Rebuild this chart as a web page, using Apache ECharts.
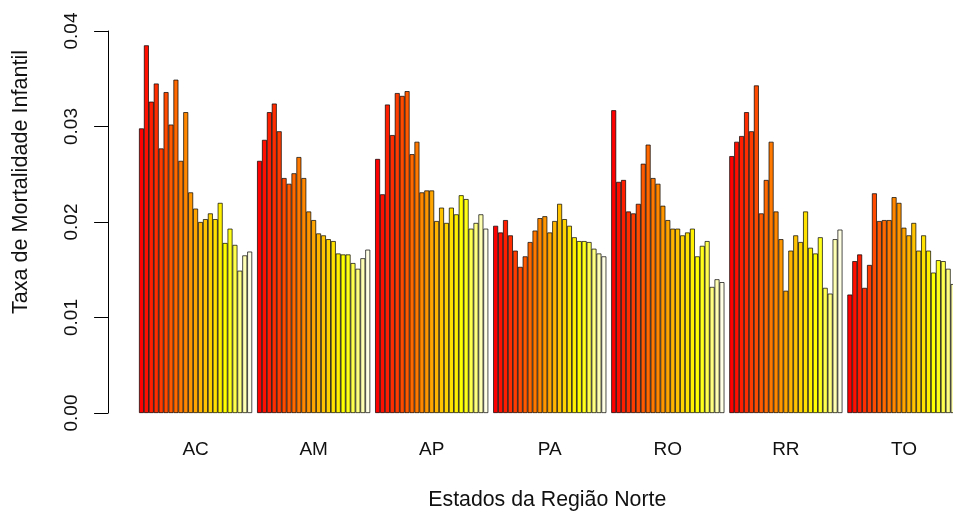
<!DOCTYPE html>
<html>
<head>
<meta charset="utf-8">
<script src="https://cdn.jsdelivr.net/npm/echarts@6/dist/echarts.min.js"></script>
<style>
html,body{margin:0;padding:0;background:#fff;}
#chart{width:953px;height:515px;}
</style>
</head>
<body>
<div id="chart"></div>
<script>
// ---- data ----
const states = ['AC', 'AM', 'AP', 'PA', 'RO', 'RR', 'TO'];
const AC = [0.0298, 0.0385, 0.0326, 0.0345, 0.0277, 0.0336, 0.0302, 0.0349, 0.0264, 0.0315, 0.0231, 0.0214, 0.0200, 0.0203, 0.0209, 0.0203, 0.0220, 0.0178, 0.0193, 0.0176, 0.0149, 0.0165, 0.0169];
const AM = [0.0264, 0.0286, 0.0315, 0.0324, 0.0295, 0.0246, 0.0240, 0.0251, 0.0268, 0.0246, 0.0211, 0.0202, 0.0188, 0.0186, 0.0182, 0.0180, 0.0167, 0.0166, 0.0166, 0.0157, 0.0151, 0.0162, 0.0171];
const AP = [0.0266, 0.0229, 0.0323, 0.0291, 0.0335, 0.0332, 0.0337, 0.0271, 0.0284, 0.0231, 0.0233, 0.0233, 0.0201, 0.0215, 0.0199, 0.0215, 0.0208, 0.0228, 0.0224, 0.0193, 0.0199, 0.0208, 0.0193];
const PA = [0.0196, 0.0189, 0.0202, 0.0186, 0.0170, 0.0153, 0.0164, 0.0179, 0.0191, 0.0204, 0.0206, 0.0189, 0.0201, 0.0219, 0.0203, 0.0196, 0.0184, 0.0180, 0.0180, 0.0179, 0.0172, 0.0167, 0.0164];
const RO = [0.0317, 0.0242, 0.0244, 0.0211, 0.0209, 0.0219, 0.0261, 0.0281, 0.0246, 0.0240, 0.0217, 0.0202, 0.0193, 0.0193, 0.0186, 0.0189, 0.0193, 0.0164, 0.0175, 0.0180, 0.0132, 0.0140, 0.0137];
const RR = [0.0269, 0.0284, 0.0290, 0.0315, 0.0295, 0.0343, 0.0209, 0.0244, 0.0284, 0.0211, 0.0182, 0.0128, 0.0170, 0.0186, 0.0179, 0.0211, 0.0173, 0.0167, 0.0184, 0.0131, 0.0125, 0.0182, 0.0192];
const TO = [0.0124, 0.0159, 0.0166, 0.0131, 0.0155, 0.0230, 0.0201, 0.0202, 0.0202, 0.0226, 0.0220, 0.0194, 0.0186, 0.0199, 0.0170, 0.0186, 0.0170, 0.0147, 0.0160, 0.0159, 0.0151, 0.0135, 0.0130];
const seriesValues = [AC, AM, AP, PA, RO, RR, TO];
const yTicks = [0, 0.01, 0.02, 0.03, 0.04];

// ---- R heat.colors(23) ----
function hsv2rgb(h, s, v) {
  const i = Math.floor(h * 6) % 6, f = h * 6 - Math.floor(h * 6);
  const p = v * (1 - s), q = v * (1 - f * s), t = v * (1 - (1 - f) * s);
  let r, g, b;
  switch (i) {
    case 0: r = v; g = t; b = p; break;
    case 1: r = q; g = v; b = p; break;
    case 2: r = p; g = v; b = t; break;
    case 3: r = p; g = q; b = v; break;
    case 4: r = t; g = p; b = v; break;
    default: r = v; g = p; b = q;
  }
  return 'rgb(' + Math.round(r * 255) + ',' + Math.round(g * 255) + ',' + Math.round(b * 255) + ')';
}
function heatColors(n) {
  const j = Math.floor(n / 4), i = n - j, out = [];
  for (let k = 0; k < i; k++) out.push(hsv2rgb((1 / 6) * k / (i - 1), 1, 1));
  for (let k = 0; k < j; k++) {
    const s = (1 - 1 / (2 * j)) - k * ((1 - 1 / (2 * j)) - 1 / (2 * j)) / (j - 1);
    out.push(hsv2rgb(1 / 6, s, 1));
  }
  return out;
}
const nBars = AC.length;
const cols = heatColors(nBars);

// ---- build categories (one empty slot before each group, like R's space) ----
const cats = [], barData = [];
states.forEach((st, g) => {
  cats.push('gap' + g);
  barData.push('-');
  seriesValues[g].forEach((v, k) => {
    cats.push(st + '|' + k);
    barData.push({ value: v, itemStyle: { color: cols[k] } });
  });
});
const centerIdx = Math.floor(nBars / 2);
const FONT = 'Liberation Sans, Arial, sans-serif';

const chart = echarts.init(document.getElementById('chart'), null, { renderer: 'canvas' });
chart.setOption({
  animation: false,
  backgroundColor: '#ffffff',
  textStyle: { fontFamily: FONT },
  grid: { left: 134.1, top: 31, width: 826.4, height: 382, containLabel: false, outerBoundsMode: 'none' },
  xAxis: {
    type: 'category',
    data: cats,
    boundaryGap: true,
    axisLine: { show: false },
    axisTick: { show: false },
    splitLine: { show: false },
    axisLabel: {
      interval: 0,
      margin: 27,
      fontSize: 19,
      color: '#111',
      fontFamily: FONT,
      formatter: function (val) {
        const parts = val.split('|');
        return (parts.length === 2 && +parts[1] === centerIdx) ? parts[0] : '';
      }
    },
    name: 'Estados da Região Norte',
    nameLocation: 'middle',
    nameGap: 77,
    nameTextStyle: { fontSize: 21.3, color: '#111', fontFamily: FONT }
  },
  yAxis: {
    type: 'value',
    min: yTicks[0],
    max: yTicks[yTicks.length - 1],
    interval: 0.01,
    offset: 26,
    axisLine: { show: true, lineStyle: { color: '#000', width: 1 } },
    axisTick: { show: true, length: 14, lineStyle: { color: '#000', width: 1 } },
    splitLine: { show: false },
    axisLabel: {
      rotate: 90,
      margin: 27,
      fontSize: 19,
      color: '#111',
      fontFamily: FONT,
      formatter: function (v) { return v.toFixed(2); }
    },
    name: 'Taxa de Mortalidade Infantil',
    nameLocation: 'middle',
    nameRotate: 90,
    nameGap: 76,
    nameTextStyle: { fontSize: 21.6, color: '#111', fontFamily: FONT, padding: [0, 0, 0, 80] }
  },
  series: [{
    type: 'bar',
    data: barData,
    barWidth: '100%',
    barCategoryGap: '0%',
    itemStyle: { borderColor: '#000', borderWidth: 0.7 },
    emphasis: { disabled: true }
  }]
});
</script>
</body>
</html>
